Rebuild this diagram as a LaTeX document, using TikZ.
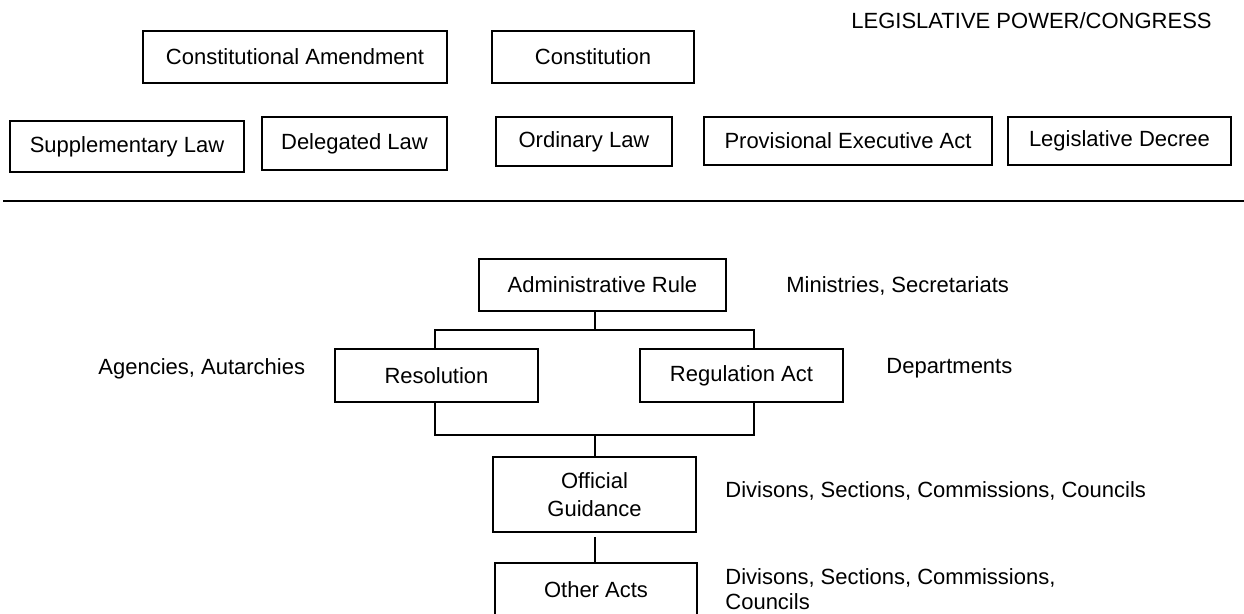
\documentclass[tikz,border=0pt]{standalone}
\usepackage{fontspec}
\setmainfont{Liberation Sans}
\usepackage{tikz}

\begin{document}
\begin{tikzpicture}[
		x=0.5pt, y=-0.5pt,
		every node/.style={font=\fontsize{11}{12.5}\selectfont},
		box/.style={rectangle, draw, line width=0.9pt, inner sep=0pt},
		note/.style={anchor=west, inner sep=0pt}
	]
  \useasboundingbox (0,0) rectangle (1244,614);
  \node (legis) [note, anchor=east] at (1212, 21) {LEGISLATIVE POWER/CONGRESS};
  \node (amend) [box, minimum width=152pt, minimum height=26pt] at (295, 57) {Constitutional Amendment};
  \node (const) [box, minimum width=101pt, minimum height=26pt] at (593, 57) {Constitution};
  \node (supp) [box, minimum width=117pt, minimum height=25.5pt] at (127, 146.5) {Supplementary Law};
  \node (deleg) [box, minimum width=92.5pt, minimum height=26.5pt] at (354.5, 143.5) {Delegated Law};
  \node (ordin) [box, minimum width=88pt, minimum height=24.5pt] at (584, 141.5) {Ordinary Law};
  \node (prov) [box, minimum width=144pt, minimum height=24pt] at (848, 141) {Provisional Executive Act};
  \node (decree) [box, minimum width=111.5pt, minimum height=24pt] at (1119.5, 141) {Legislative Decree};
  \coordinate (sep_l) at (3, 201);
  \coordinate (sep_r) at (1244, 201);
  \draw [line width=1.2pt] (sep_l) -- (sep_r);
  \node (admin) [box, minimum width=123.5pt, minimum height=26pt] at (602.5, 285) {Administrative Rule};
  \node (res) [box, minimum width=101.5pt, minimum height=26.5pt] at (436.5, 375.5) {Resolution};
  \node (reg) [box, minimum width=101.5pt, minimum height=26.5pt] at (741.5, 375.5) {Regulation Act};
  \node (guide) [box, align=center, font=\fontsize{11}{14}\selectfont, minimum width=101.5pt, minimum height=37.5pt] at (594.5, 494.5) {Official\\Guidance};
  \node (other) [box, minimum width=101pt, minimum height=27pt] at (596, 590) {Other Acts};
  \node (mins) [note] at (786, 286) {Ministries, Secretariats};
  \node (agen) [note] at (98, 369) {Agencies, Autarchies};
  \node (dept) [note] at (886, 368) {Departments};
  \node (div_a) [note] at (725, 491) {Divisons, Sections, Commissions, Councils};
  \node (div_b) [note, align=left] at (725, 589) {Divisons, Sections, Commissions,\\Councils};
  \coordinate (j_top) at (595, 330);
  \coordinate (j_l) at (435, 330);
  \coordinate (j_r) at (754, 330);
  \coordinate (j_bot) at (595, 435);
  \coordinate (j_bl) at (435, 435);
  \coordinate (j_br) at (754, 435);
  \coordinate (j_g) at (595, 537);
  \draw [line width=0.9pt] (admin.south -| j_top) -- (j_top);
  \draw [line width=0.9pt] (res.north -| j_l) -- (j_l) -- (j_r) -- (reg.north -| j_r);
  \draw [line width=0.9pt] (res.south -| j_bl) -- (j_bl) -- (j_br) -- (reg.south -| j_br);
  \draw [line width=0.9pt] (j_bot) -- (guide.north -| j_bot);
  \draw [line width=0.9pt] (j_g) -- (other.north -| j_g);
\end{tikzpicture}
\end{document}
